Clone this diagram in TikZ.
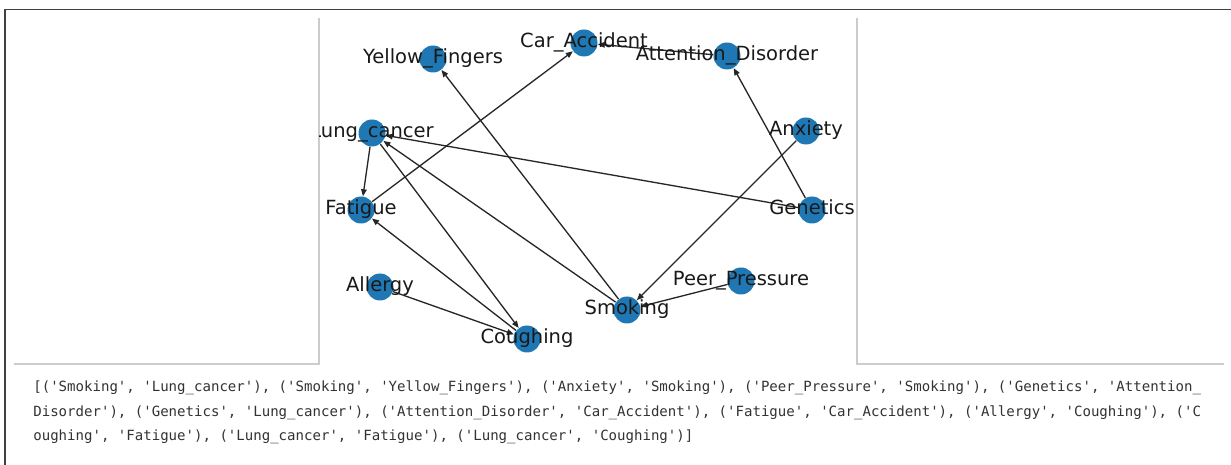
\documentclass[tikz,border=0pt]{standalone}
\usepackage{fontspec}
\usetikzlibrary{arrows.meta}
\newfontfamily\lblfont{DejaVu Sans}
\newfontfamily\codefont{DejaVu Sans Mono}[Ligatures=TeXOff]
\definecolor{nxblue}{HTML}{1F78B4}

\begin{document}
\begin{tikzpicture}[x=0.02cm, y=-0.02cm,
    dot/.style={circle, fill=nxblue, draw=none, minimum size=0.54cm, inner sep=0pt},
    lbl/.style={font=\lblfont\fontsize{11.1}{13}\selectfont, text=black!90, inner sep=0pt, text height=0.76em, text depth=0.24em},
    link/.style={-{Triangle[length=4pt,width=3.2pt]}, draw=black!85, line width=0.75pt},
    code/.style={font=\codefont\fontsize{8}{10}\selectfont, text=black!80, inner sep=0pt, anchor=base west}]
                \useasboundingbox (0,0) rectangle (1231,465);
                \fill[white] (0,0) rectangle (1231,465);

                % frame and figure panel
                \draw[black!75, line width=0.85pt] (5,465) -- (5,9.5) -- (1231,9.5);
                \draw[black!20, line width=0.6pt] (14,364) -- (319,364) -- (319,18);
                \draw[black!20, line width=0.6pt] (857,18) -- (857,364) -- (1224,364);

                \node[dot] (Smoking) at (627,310) {};
                \node[dot] (Lung cancer) at (372,133) {};
                \node[dot] (Yellow Fingers) at (433,59) {};
                \node[dot] (Anxiety) at (806,131) {};
                \node[dot] (Peer Pressure) at (741,281) {};
                \node[dot] (Genetics) at (812,210) {};
                \node[dot] (Attention Disorder) at (727,56) {};
                \node[dot] (Car Accident) at (584,43) {};
                \node[dot] (Fatigue) at (361,210) {};
                \node[dot] (Allergy) at (380,287) {};
                \node[dot] (Coughing) at (527,339) {};

                \draw[link] (Smoking) -- (Lung cancer);
                \draw[link] (Smoking) -- (Yellow Fingers);
                \draw[link] (Anxiety) -- (Smoking);
                \draw[link] (Peer Pressure) -- (Smoking);
                \draw[link] (Genetics) -- (Attention Disorder);
                \draw[link] (Genetics) -- (Lung cancer);
                \draw[link] (Attention Disorder) -- (Car Accident);
                \draw[link] (Fatigue) -- (Car Accident);
                \draw[link] (Allergy) -- (Coughing);
                \draw[link] (Coughing) -- (Fatigue);
                \draw[link] (Lung cancer) -- (Fatigue);
                \draw[link] (Lung cancer) -- (Coughing);

                \begin{scope}
                \clip (319,18) rectangle (857,364);
                \node[lbl] (Smoking label) at (Smoking) {Smoking};
                \node[lbl] (Lung cancer label) at (Lung cancer) {Lung\_cancer};
                \node[lbl] (Yellow Fingers label) at (Yellow Fingers) {Yellow\_Fingers};
                \node[lbl] (Anxiety label) at (Anxiety) {Anxiety};
                \node[lbl] (Peer Pressure label) at (Peer Pressure) {Peer\_Pressure};
                \node[lbl] (Genetics label) at (Genetics) {Genetics};
                \node[lbl] (Attention Disorder label) at (Attention Disorder) {Attention\_Disorder};
                \node[lbl] (Car Accident label) at (Car Accident) {Car\_Accident};
                \node[lbl] (Fatigue label) at (Fatigue) {Fatigue};
                \node[lbl] (Allergy label) at (Allergy) {Allergy};
                \node[lbl] (Coughing label) at (Coughing) {Coughing};
                \end{scope}

                \node[code] (list line 1) at (33,392) {[('Smoking', 'Lung\_cancer'), ('Smoking', 'Yellow\_Fingers'), ('Anxiety', 'Smoking'), ('Peer\_Pressure', 'Smoking'), ('Genetics', 'Attention\_};
                \node[code] (list line 2) at (33,416.5) {Disorder'), ('Genetics', 'Lung\_cancer'), ('Attention\_Disorder', 'Car\_Accident'), ('Fatigue', 'Car\_Accident'), ('Allergy', 'Coughing'), ('C};
                \node[code] (list line 3) at (33,441) {oughing', 'Fatigue'), ('Lung\_cancer', 'Fatigue'), ('Lung\_cancer', 'Coughing')]};
            \end{tikzpicture}
\end{document}
